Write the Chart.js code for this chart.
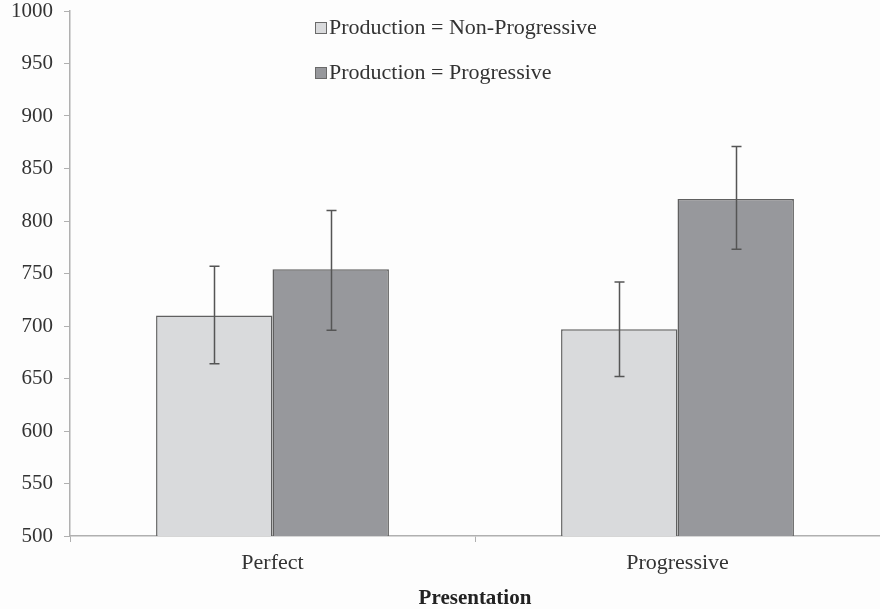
<!DOCTYPE html>
<html>
<head>
<meta charset="utf-8">
<script src="https://cdn.jsdelivr.net/npm/chart.js@4.4.0/dist/chart.umd.min.js"></script>
<style>
  html, body { margin: 0; padding: 0; background: #fdfdfd; }
  #wrap { width: 880px; height: 609px; }
</style>
</head>
<body>
<div id="wrap"><canvas id="rtChart" width="880" height="609"></canvas></div>
<script>
const categories = ['Perfect', 'Progressive'];
const seriesNames = ['Production = Non-Progressive', 'Production = Progressive'];
const nonProgMeans = [710, 697];
const nonProgLow = [664, 652];
const nonProgHigh = [757, 742];
const progMeans = [754, 821];
const progLow = [696, 773];
const progHigh = [810, 871];
const yTicks = [500, 550, 600, 650, 700, 750, 800, 850, 900, 950, 1000];

const errLow = [nonProgLow, progLow];
const errHigh = [nonProgHigh, progHigh];

// error bars drawn from the data through the y scale
const errorBars = {
    id: 'errorBars',
    afterDatasetsDraw: function (chart) {
        var ctx = chart.ctx;
        var yScale = chart.scales.y;
        ctx.save();
        ctx.strokeStyle = '#555555';
        ctx.lineWidth = 1.5;
        chart.data.datasets.forEach(function (dataset, i) {
            var meta = chart.getDatasetMeta(i);
            meta.data.forEach(function (bar, index) {
                var x = Math.round(bar.x) + 0.5;
                var yTop = yScale.getPixelForValue(errHigh[i][index]);
                var yBot = yScale.getPixelForValue(errLow[i][index]);
                ctx.beginPath();
                ctx.moveTo(x, yTop);
                ctx.lineTo(x, yBot);
                ctx.moveTo(x - 5, yTop);
                ctx.lineTo(x + 5, yTop);
                ctx.moveTo(x - 5, yBot);
                ctx.lineTo(x + 5, yBot);
                ctx.stroke();
            });
        });
        ctx.restore();
    }
};

// legend inside the plot, stacked
const innerLegend = {
    id: 'innerLegend',
    afterDraw: function (chart) {
        var ctx = chart.ctx;
        ctx.save();
        ctx.font = '22px "Liberation Serif", "Times New Roman", serif';
        ctx.textBaseline = 'middle';
        ctx.textAlign = 'left';
        chart.data.datasets.forEach(function (dataset, i) {
            var y = 28 + i * 45;
            var x = 315;
            ctx.fillStyle = dataset.backgroundColor;
            ctx.fillRect(x, y - 6, 11, 11);
            ctx.strokeStyle = '#6a6a6a';
            ctx.lineWidth = 1;
            ctx.strokeRect(x + 0.5, y - 5.5, 11, 11);
            ctx.fillStyle = '#333333';
            ctx.fillText(dataset.label, x + 14, y);
        });
        ctx.restore();
    }
};

Chart.defaults.font.family = '"Liberation Serif", "Times New Roman", serif';
Chart.defaults.color = '#333333';

new Chart(document.getElementById('rtChart'), {
    type: 'bar',
    data: {
        labels: categories,
        datasets: [{
            label: seriesNames[0],
            data: nonProgMeans,
            backgroundColor: '#d9dadc',
            borderColor: '#606060',
            borderWidth: 1.5
        }, {
            label: seriesNames[1],
            data: progMeans,
            backgroundColor: '#97989c',
            borderColor: '#606060',
            borderWidth: 1.5
        }]
    },
    options: {
        responsive: false,
        animation: false,
        layout: { padding: { top: 11, right: 0, left: 0, bottom: 0 } },
        categoryPercentage: 0.575,
        barPercentage: 1.0,
        plugins: {
            legend: { display: false },
            tooltip: { enabled: false }
        },
        scales: {
            x: {
                grid: { drawOnChartArea: false, color: '#b0b0b0', tickLength: 6, offset: true },
                border: { color: '#b0b0b0', width: 1.5 },
                ticks: { font: { size: 22, lineHeight: 1.0 }, color: '#333333', padding: 10 },
                title: {
                    display: true,
                    text: 'Presentation',
                    font: { size: 21, weight: 'bold', lineHeight: 1.0 },
                    color: '#222222',
                    padding: { top: 4, bottom: 0 }
                },
                afterFit: function (scale) { scale.paddingLeft = 0; scale.paddingRight = 0; }
            },
            y: {
                min: 500,
                max: 1000,
                afterBuildTicks: function (scale) {
                    scale.ticks = yTicks.map(function (v) { return { value: v }; });
                },
                afterFit: function (scale) { scale.paddingTop = 0; scale.paddingBottom = 0; },
                grid: { drawOnChartArea: false, color: '#b0b0b0', tickLength: 6 },
                border: { color: '#b0b0b0', width: 1.5 },
                ticks: {
                    font: { size: 21, lineHeight: 1.0 },
                    color: '#333333',
                    padding: 11,
                    callback: function (value) { return String(value); }
                }
            }
        }
    },
    plugins: [errorBars, innerLegend]
});
</script>
</body>
</html>
